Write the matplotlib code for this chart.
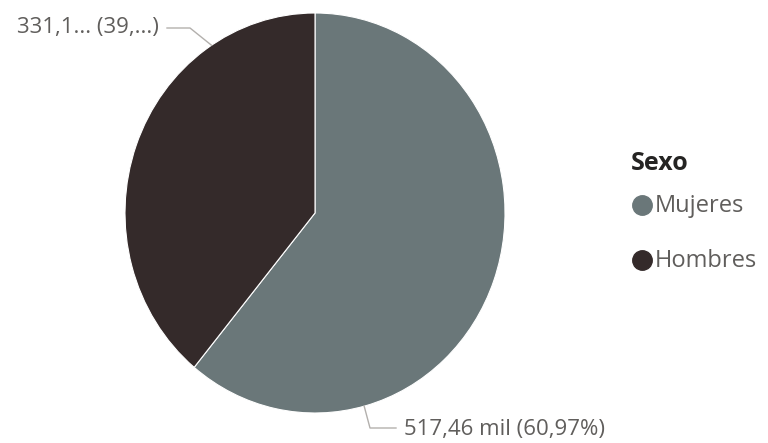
import matplotlib
matplotlib.use('Agg')
import matplotlib.pyplot as plt
from matplotlib.lines import Line2D
import numpy as np

categories = ['Mujeres', 'Hombres']
values = [517.46, 331.25]
labels = ['517,46 mil (60,97%)', '331,1... (39,...)']
colors = ['#6A7779', '#342A2A']
text_color = '#605E5C'

plt.rcParams['font.family'] = ['Open Sans', 'DejaVu Sans']

W, H = 768, 443
fig = plt.figure(figsize=(W / 100, H / 100), dpi=100)
# pie box in pixels: x 125..505, y 13..413
ax = fig.add_axes([125 / W, 30 / H, 380 / W, 400 / H])
wedges, _ = ax.pie(values, colors=colors, startangle=90, counterclock=False,
                   wedgeprops=dict(edgecolor='white', linewidth=0.8))
ax.set_aspect('auto')
ax.set_xlim(-1, 1)
ax.set_ylim(-1, 1)


def px(x, y):
    # pixel (from top-left) -> data coords of the pie axes
    return ax.transData.inverted().transform(fig.transFigure.transform((x / W, 1 - y / H)))


def fpx(x, y):
    return (x / W, 1 - y / H)


# leader lines and labels (anchor angle on the rim, elbow, text end)
label_specs = [
    (-75, [(370, 428), (396, 428)], (404, 429), 'left'),
    (123, [(190, 28), (167, 28)], (159, 28), 'right'),
]
for lab, (ang, elbow, tpos, ha) in zip(labels, label_specs):
    a = np.deg2rad(ang)
    pts = [(np.cos(a), np.sin(a))] + [tuple(px(*e)) for e in elbow]
    xs, ys = zip(*pts)
    ax.plot(xs, ys, color='#B3B0AD', lw=1, clip_on=False)
    tx, ty = px(*tpos)
    ax.text(tx, ty, lab, ha=ha, va='center', color=text_color, fontsize=16,
            clip_on=False)

# legend
fig.text(*fpx(631, 163), 'Sexo', fontsize=18, fontweight='bold',
         color='#252423', ha='left', va='center')
for i, (cat, c) in enumerate(zip(categories, colors)):
    y = 205 + i * 55
    fig.add_artist(Line2D([642 / W], [1 - y / H], marker='o', ls='',
                          markersize=14, color=c, transform=fig.transFigure))
    fig.text(*fpx(655, y + 1), cat, fontsize=17, color=text_color,
             ha='left', va='center')

fig.savefig('out.png', dpi=100)
